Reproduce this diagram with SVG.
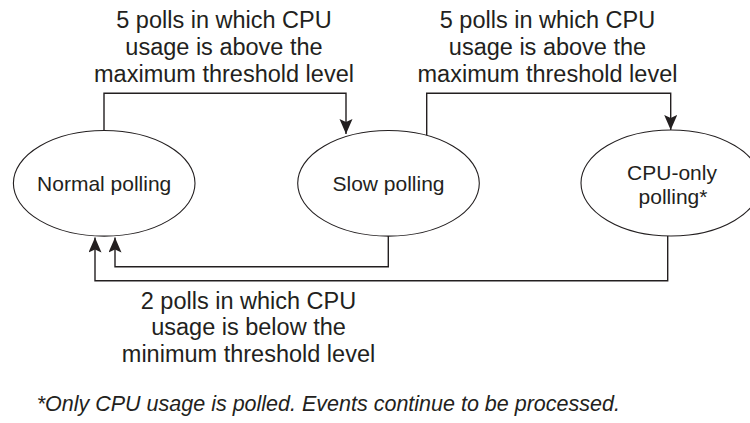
<svg xmlns="http://www.w3.org/2000/svg" width="750" height="423" viewBox="0 0 750 423">
<defs>
<marker id="arr" markerUnits="userSpaceOnUse" markerWidth="16" markerHeight="14" refX="15" refY="6.5" orient="auto"><path d="M0,0 L15,6.5 L0,13 L3,6.5 z" fill="#231f20"/></marker>
</defs>
<style>
.node ellipse{fill:#fff;stroke:#231f20;stroke-width:1.1}
.t{font-family:"Liberation Sans",Arial,sans-serif;fill:#231f20;text-anchor:middle}
.n{font-size:21px}
.lbl{font-size:23.5px}
.foot{font-size:21.5px;font-style:italic;text-anchor:start}
#connectors path{fill:none;stroke:#231f20;stroke-width:1.4;marker-end:url(#arr)}
</style>
<rect width="750" height="423" fill="#fff"/>
<g id="connectors">
<path d="M104,130.5 V93.3 H346 V134"/>
<path d="M426.7,135.4 V93.3 H670.7 V130"/>
<path d="M388.3,236 V266.7 H115 V237.5"/>
<path d="M667.7,236 V280.7 H95 V237.5"/>
</g>
<g id="normal" class="node">
<ellipse cx="104.2" cy="183.3" rx="90.8" ry="52.8"/>
<text class="t n" x="104.2" y="191">Normal polling</text>
</g>
<g id="slow" class="node">
<ellipse cx="388.5" cy="183.3" rx="90.8" ry="52.8"/>
<text class="t n" x="388.5" y="190.5">Slow polling</text>
</g>
<g id="cpuonly" class="node">
<ellipse cx="671" cy="183" rx="90" ry="53"/>
<text class="t n" x="672" y="180">CPU-only</text>
<text class="t n" x="673" y="204">polling*</text>
</g>
<g id="labels">
<text class="t lbl" x="224" y="28">5 polls in which CPU</text>
<text class="t lbl" x="224" y="55">usage is above the</text>
<text class="t lbl" x="224" y="82">maximum threshold level</text>
<text class="t lbl" x="547.5" y="28">5 polls in which CPU</text>
<text class="t lbl" x="547.5" y="55">usage is above the</text>
<text class="t lbl" x="547.5" y="82">maximum threshold level</text>
<text class="t lbl" x="248.5" y="308.5">2 polls in which CPU</text>
<text class="t lbl" x="248.5" y="335">usage is below the</text>
<text class="t lbl" x="248.5" y="362">minimum threshold level</text>
<text class="t foot" x="36.7" y="411">*Only CPU usage is polled. Events continue to be processed.</text>
</g>
</svg>
